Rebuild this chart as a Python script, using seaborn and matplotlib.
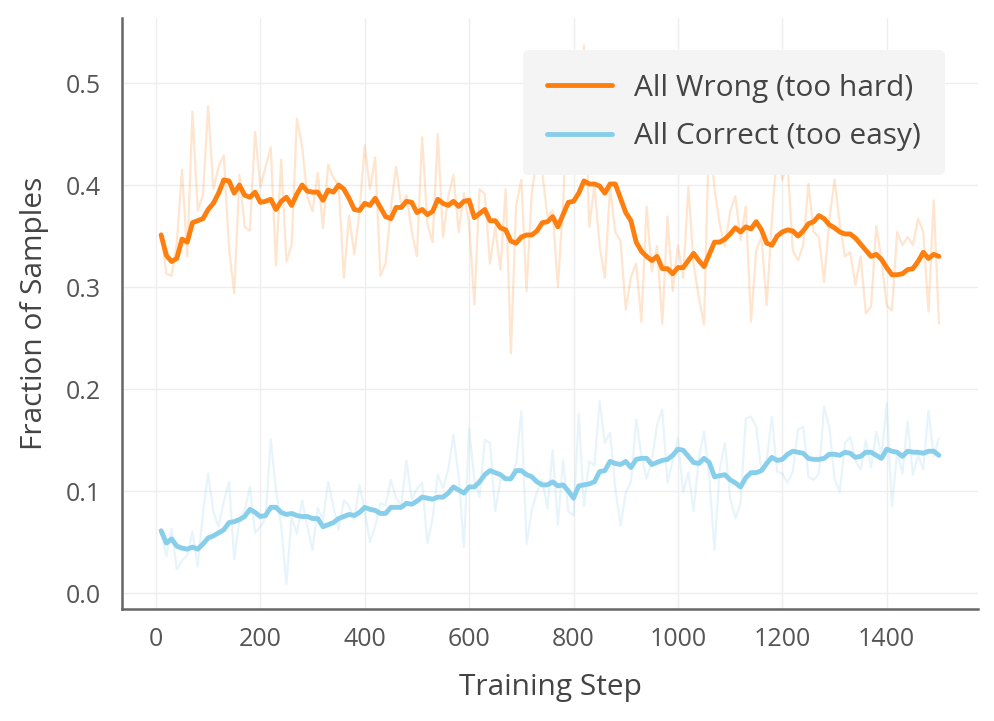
import numpy as np
import pandas as pd
import seaborn as sns
import matplotlib.pyplot as plt

steps = list(range(10, 1510, 10))

wrong_raw = [
    0.353, 0.313, 0.311, 0.343, 0.415, 0.330, 0.472, 0.375, 0.390, 0.477,
    0.396, 0.418, 0.429, 0.338, 0.294, 0.410, 0.359, 0.355, 0.452, 0.398,
    0.418, 0.437, 0.321, 0.425, 0.325, 0.341, 0.465, 0.438, 0.389, 0.374,
    0.412, 0.358, 0.420, 0.407, 0.400, 0.309, 0.370, 0.332, 0.374, 0.439,
    0.396, 0.427, 0.311, 0.323, 0.377, 0.418, 0.380, 0.390, 0.355, 0.330,
    0.447, 0.362, 0.344, 0.450, 0.349, 0.389, 0.410, 0.354, 0.392, 0.362,
    0.283, 0.396, 0.391, 0.323, 0.359, 0.317, 0.396, 0.235, 0.380, 0.405,
    0.296, 0.392, 0.428, 0.413, 0.369, 0.375, 0.300, 0.382, 0.495, 0.411,
    0.454, 0.537, 0.359, 0.400, 0.340, 0.309, 0.398, 0.354, 0.345, 0.278,
    0.310, 0.323, 0.266, 0.379, 0.315, 0.340, 0.264, 0.369, 0.296, 0.341,
    0.309, 0.398, 0.323, 0.290, 0.263, 0.460, 0.396, 0.362, 0.340, 0.374,
    0.389, 0.346, 0.379, 0.266, 0.336, 0.349, 0.282, 0.366, 0.436, 0.405,
    0.420, 0.336, 0.326, 0.341, 0.401, 0.354, 0.349, 0.305, 0.366, 0.405,
    0.362, 0.330, 0.334, 0.302, 0.330, 0.274, 0.281, 0.360, 0.326, 0.282,
    0.277, 0.354, 0.341, 0.349, 0.341, 0.367, 0.354, 0.276, 0.385, 0.264,
]

wrong_smooth = [
    0.351, 0.331, 0.325, 0.328, 0.347, 0.344, 0.363, 0.365, 0.367, 0.376,
    0.382, 0.392, 0.405, 0.404, 0.392, 0.400, 0.390, 0.388, 0.393, 0.383,
    0.384, 0.386, 0.376, 0.384, 0.388, 0.380, 0.391, 0.400, 0.394, 0.393,
    0.393, 0.385, 0.395, 0.393, 0.400, 0.396, 0.387, 0.376, 0.375, 0.382,
    0.380, 0.387, 0.378, 0.369, 0.367, 0.378, 0.378, 0.384, 0.383, 0.373,
    0.376, 0.371, 0.374, 0.386, 0.382, 0.380, 0.384, 0.379, 0.384, 0.385,
    0.368, 0.372, 0.376, 0.365, 0.365, 0.358, 0.356, 0.345, 0.343, 0.349,
    0.351, 0.351, 0.355, 0.363, 0.364, 0.369, 0.359, 0.371, 0.383, 0.384,
    0.392, 0.404, 0.401, 0.401, 0.399, 0.392, 0.401, 0.401, 0.387, 0.373,
    0.365, 0.344, 0.335, 0.330, 0.326, 0.330, 0.318, 0.318, 0.313, 0.319,
    0.319, 0.326, 0.333, 0.326, 0.320, 0.332, 0.344, 0.344, 0.347, 0.352,
    0.358, 0.354, 0.359, 0.357, 0.364, 0.356, 0.343, 0.341, 0.350, 0.354,
    0.356, 0.355, 0.350, 0.355, 0.362, 0.364, 0.370, 0.367, 0.361, 0.358,
    0.354, 0.352, 0.352, 0.348, 0.342, 0.336, 0.330, 0.332, 0.327, 0.319,
    0.312, 0.312, 0.313, 0.317, 0.318, 0.325, 0.334, 0.328, 0.332, 0.330,
]

correct_raw = [
    0.061, 0.036, 0.063, 0.023, 0.032, 0.037, 0.060, 0.026, 0.078, 0.117,
    0.080, 0.065, 0.090, 0.109, 0.033, 0.072, 0.081, 0.104, 0.059, 0.065,
    0.073, 0.151, 0.101, 0.065, 0.009, 0.075, 0.058, 0.091, 0.065, 0.042,
    0.083, 0.072, 0.109, 0.085, 0.062, 0.091, 0.085, 0.072, 0.106, 0.081,
    0.050, 0.065, 0.088, 0.086, 0.111, 0.093, 0.086, 0.130, 0.092, 0.102,
    0.108, 0.049, 0.073, 0.116, 0.103, 0.121, 0.155, 0.114, 0.045, 0.161,
    0.111, 0.094, 0.150, 0.147, 0.080, 0.111, 0.111, 0.114, 0.127, 0.178,
    0.048, 0.081, 0.099, 0.111, 0.083, 0.140, 0.067, 0.130, 0.080, 0.076,
    0.176, 0.085, 0.129, 0.125, 0.188, 0.147, 0.157, 0.103, 0.066, 0.098,
    0.109, 0.170, 0.135, 0.112, 0.130, 0.165, 0.180, 0.108, 0.130, 0.152,
    0.099, 0.118, 0.080, 0.132, 0.158, 0.114, 0.042, 0.121, 0.147, 0.093,
    0.073, 0.088, 0.171, 0.173, 0.163, 0.119, 0.130, 0.173, 0.119, 0.117,
    0.108, 0.119, 0.160, 0.163, 0.114, 0.111, 0.117, 0.183, 0.163, 0.112,
    0.099, 0.147, 0.153, 0.130, 0.121, 0.150, 0.123, 0.158, 0.134, 0.186,
    0.085, 0.139, 0.117, 0.168, 0.116, 0.135, 0.121, 0.179, 0.134, 0.152,
]

correct_smooth = [
    0.061, 0.049, 0.053, 0.046, 0.044, 0.043, 0.045, 0.043, 0.048, 0.054,
    0.056, 0.059, 0.062, 0.069, 0.070, 0.072, 0.075, 0.082, 0.079, 0.075,
    0.076, 0.084, 0.084, 0.079, 0.077, 0.078, 0.076, 0.075, 0.075, 0.073,
    0.073, 0.065, 0.067, 0.069, 0.073, 0.075, 0.077, 0.076, 0.079, 0.084,
    0.082, 0.081, 0.078, 0.078, 0.084, 0.084, 0.084, 0.088, 0.087, 0.090,
    0.094, 0.093, 0.092, 0.094, 0.094, 0.098, 0.104, 0.101, 0.098, 0.104,
    0.104, 0.109, 0.116, 0.120, 0.118, 0.116, 0.112, 0.112, 0.120, 0.120,
    0.116, 0.114, 0.109, 0.106, 0.106, 0.109, 0.105, 0.106, 0.100, 0.093,
    0.105, 0.106, 0.107, 0.109, 0.119, 0.120, 0.129, 0.127, 0.126, 0.129,
    0.123, 0.131, 0.132, 0.132, 0.126, 0.128, 0.130, 0.131, 0.135, 0.141,
    0.140, 0.134, 0.128, 0.127, 0.132, 0.128, 0.114, 0.115, 0.116, 0.111,
    0.108, 0.104, 0.113, 0.118, 0.118, 0.120, 0.127, 0.133, 0.130, 0.131,
    0.136, 0.139, 0.138, 0.137, 0.132, 0.131, 0.131, 0.132, 0.136, 0.136,
    0.135, 0.138, 0.137, 0.133, 0.134, 0.138, 0.138, 0.135, 0.132, 0.141,
    0.139, 0.138, 0.134, 0.139, 0.138, 0.138, 0.137, 0.139, 0.139, 0.135,
]

orange = '#ff7f0e'
blue = '#87ceeb'

sns.set_style('white')
plt.rcParams['font.family'] = ['Open Sans', 'DejaVu Sans']

fig = plt.figure(figsize=(9.95, 7.21), dpi=100)
ax = fig.add_axes([0.1226, 0.1553, 0.8604, 0.8197])

sns.lineplot(x=steps, y=wrong_raw, color=orange, alpha=0.2, lw=1.6, ax=ax)
sns.lineplot(x=steps, y=correct_raw, color=blue, alpha=0.2, lw=1.6, ax=ax)
sns.lineplot(x=steps, y=wrong_smooth, color=orange, lw=3.5, ax=ax,
             label='All Wrong (too hard)')
sns.lineplot(x=steps, y=correct_smooth, color=blue, lw=3.5, ax=ax,
             label='All Correct (too easy)')

ax.set_xlim(-65, 1575)
ax.set_ylim(-0.0157, 0.5637)
ax.set_xticks(range(0, 1401, 200))
ax.set_yticks([0.0, 0.1, 0.2, 0.3, 0.4, 0.5])
ax.set_yticklabels(['0.0', '0.1', '0.2', '0.3', '0.4', '0.5'])
ax.grid(True, color='#eeeeee', lw=1)
ax.set_axisbelow(True)

for side in ['top', 'right']:
    ax.spines[side].set_visible(False)
for side in ['left', 'bottom']:
    ax.spines[side].set_color('#666666')
    ax.spines[side].set_linewidth(1.8)

ax.tick_params(axis='both', direction='out', length=7, width=1.5,
               color='#666666', labelsize=18, labelcolor='#555555')
ax.tick_params(axis='y', pad=8)
ax.tick_params(axis='x', pad=6)
ax.set_xlabel('Training Step', fontsize=21.5, color='#444444', labelpad=15)
ax.set_ylabel('Fraction of Samples', fontsize=21.5, color='#444444', labelpad=12)

leg = ax.legend(loc='upper right', bbox_to_anchor=(0.961, 0.946),
                borderaxespad=0, fontsize=21.5, frameon=True,
                facecolor='#f4f4f4', edgecolor='none', framealpha=1,
                handlelength=2.2, handletextpad=0.72, labelspacing=0.65,
                borderpad=0.8)
for t in leg.get_texts():
    t.set_color('#444444')
for h in leg.get_lines():
    h.set_linewidth(3.5)

fig.savefig('out.png', dpi=100)
